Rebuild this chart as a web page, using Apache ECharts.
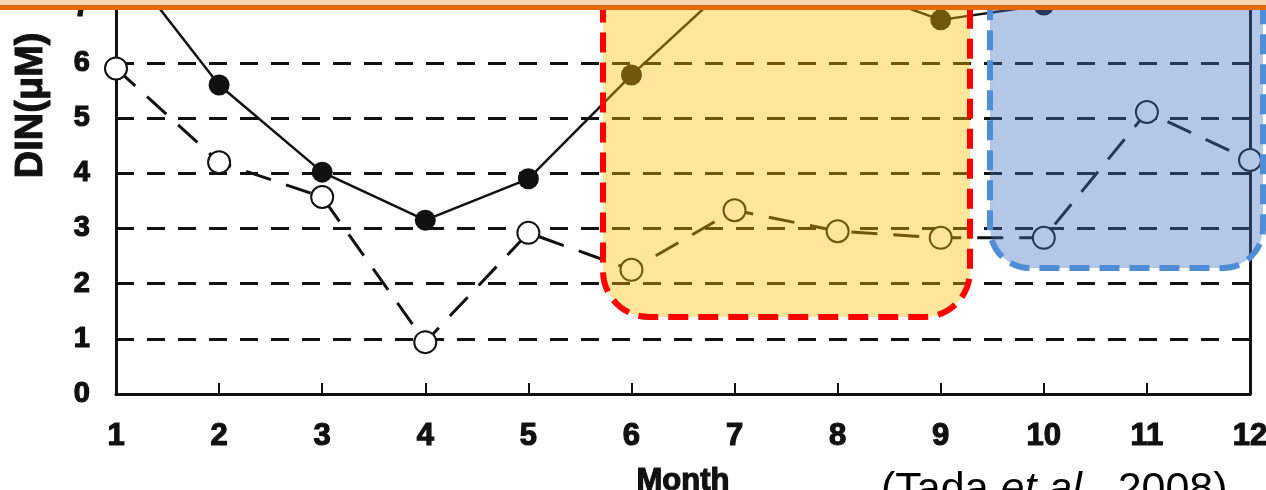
<!DOCTYPE html>
<html>
<head>
<meta charset="utf-8">
<script src="https://cdn.jsdelivr.net/npm/echarts@6/dist/echarts.min.js"></script>
<style>
  html, body { margin: 0; padding: 0; background: #ffffff; }
  #chart { width: 1266px; height: 490px; }
</style>
</head>
<body>
<div id="chart"></div>
<script>
// Monthly DIN concentration (μM)
const months = ['1', '2', '3', '4', '5', '6', '7', '8', '9', '10', '11', '12'];
const dinFilled = [8.0, 5.6, 4.02, 3.15, 3.9, 5.78, 7.5, 7.45, 6.78, 7.05, 8.2, 8.4];
const dinOpen = [5.9, 4.2, 3.57, 0.94, 2.92, 2.25, 3.33, 2.95, 2.83, 2.83, 5.11, 4.24];
const yMin = 0;
const yMax = 7.14;
const yStep = 1;

const axisFont = 'Liberation Sans, Arial, sans-serif';
const ink = '#111111';
// heavy lettering for the axis text
const heavy = { fontFamily: axisFont, fontWeight: 'bold', color: ink, textBorderColor: ink, textBorderWidth: 1.2 };

const chart = echarts.init(document.getElementById('chart'), null, { renderer: 'canvas' });

chart.setOption({
  backgroundColor: '#ffffff',
  animation: false,
  grid: { left: 116, right: 16, top: 0, bottom: 96, containLabel: false, outerBoundsMode: 'none' },
  xAxis: {
    type: 'category',
    data: months,
    boundaryGap: false,
    name: 'Month',
    nameLocation: 'middle',
    nameGap: 72,
    nameTextStyle: Object.assign({ fontSize: 31 }, heavy),
    axisLine: { show: true, lineStyle: { color: ink, width: 3 } },
    axisTick: { show: true, inside: true, length: 11, lineStyle: { color: ink, width: 2 } },
    axisLabel: Object.assign({ margin: 27, fontSize: 31 }, heavy),
    splitLine: { show: false }
  },
  yAxis: [
    {
      type: 'value',
      min: yMin,
      max: yMax,
      interval: yStep,
      axisLine: { show: true, lineStyle: { color: ink, width: 3 } },
      axisTick: { show: false },
      axisLabel: Object.assign({ margin: 26, fontSize: 29, showMaxLabel: false }, heavy),
      splitLine: { show: true, lineStyle: { color: ink, width: 3, type: [18, 13] } }
    },
    {
      type: 'value',
      position: 'right',
      min: yMin,
      max: yMax,
      interval: yStep,
      axisLine: { show: true, lineStyle: { color: ink, width: 3 } },
      axisTick: { show: false },
      axisLabel: { show: false },
      splitLine: { show: false }
    }
  ],
  series: [
    {
      name: 'filled',
      type: 'line',
      data: dinFilled,
      clip: true,
      symbol: 'circle',
      symbolSize: 21,
      itemStyle: { color: ink, borderColor: ink, borderWidth: 0 },
      lineStyle: { color: ink, width: 2.5, type: 'solid' },
      z: 3
    },
    {
      name: 'open',
      type: 'line',
      data: dinOpen,
      clip: true,
      symbol: 'circle',
      symbolSize: 22,
      itemStyle: { color: '#ffffff', borderColor: ink, borderWidth: 2 },
      lineStyle: { color: ink, width: 3, type: [26, 16] },
      z: 4
    }
  ],
  graphic: [
    // y-axis title
    {
      type: 'text',
      left: 12, top: 32,
      rotation: Math.PI / 2,
      originX: 0, originY: 0,
      style: {
        text: 'DIN(μM)',
        x: 0, y: 0,
        fontFamily: axisFont, fontWeight: 'bold', fontSize: 38,
        fill: ink, stroke: ink, lineWidth: 1
      },
      z: 10
    },
    // highlighted months 6-9
    {
      type: 'rect',
      shape: { x: 603, y: -80, width: 367, height: 397, r: 46 },
      style: { fill: 'rgba(255,192,0,0.4)', stroke: '#ff0000', lineWidth: 6, lineDash: [20, 10] },
      z: 50
    },
    // highlighted months 10-12
    {
      type: 'rect',
      shape: { x: 990, y: -80, width: 273, height: 348, r: 40 },
      style: { fill: 'rgba(68,114,196,0.4)', stroke: '#4f8dd6', lineWidth: 6, lineDash: [20, 10] },
      z: 50
    },
    // top band
    {
      type: 'rect',
      shape: { x: 0, y: 0, width: 1266, height: 5 },
      style: { fill: '#fbd4b4' },
      z: 60
    },
    {
      type: 'rect',
      shape: { x: 0, y: 5, width: 1266, height: 5 },
      style: { fill: '#e36c09' },
      z: 60
    },
    // citation
    {
      type: 'text',
      left: 881, top: 469,
      style: {
        text: '{n|(Tada }{i|et al.}{n|, 2008)}',
        rich: {
          n: { fontFamily: axisFont, fontSize: 43, fill: '#000000' },
          i: { fontFamily: axisFont, fontSize: 43, fontStyle: 'italic', fill: '#000000' }
        }
      },
      z: 60
    }
  ]
});
</script>
</body>
</html>
